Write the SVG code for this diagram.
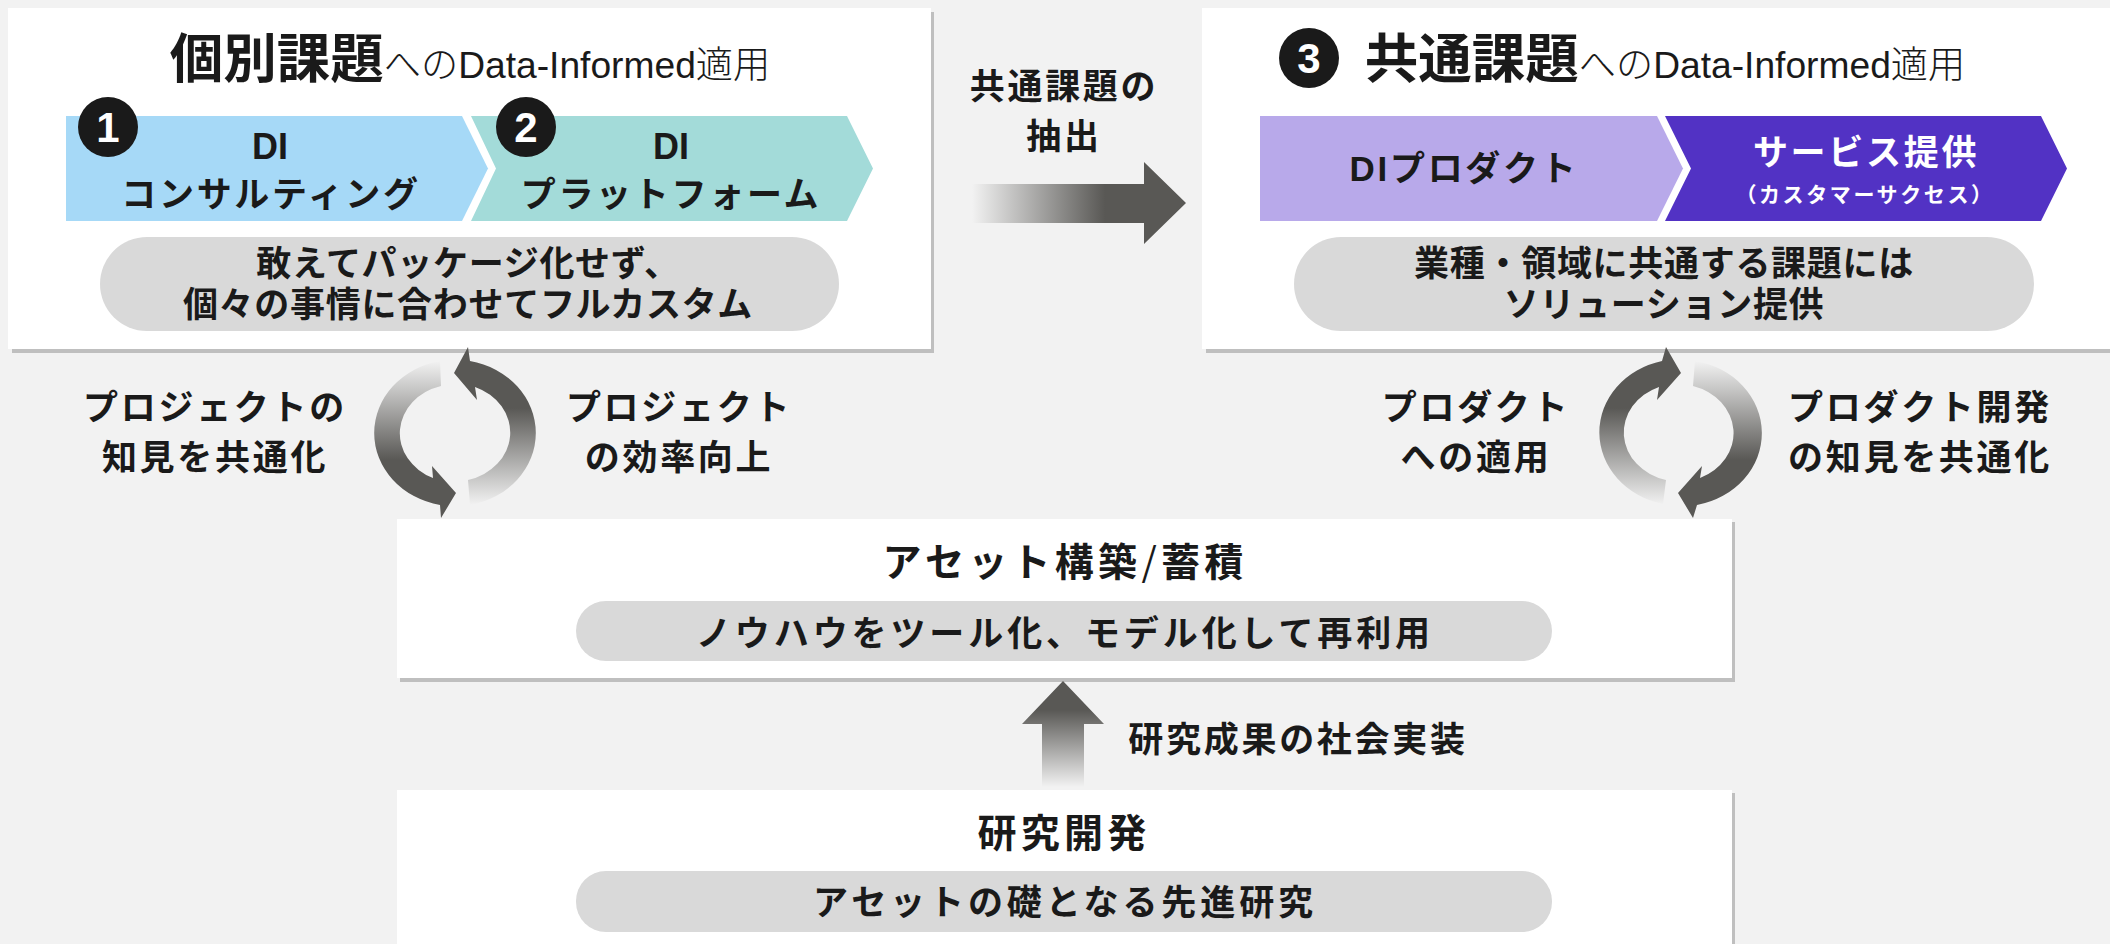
<svg xmlns="http://www.w3.org/2000/svg" width="2110" height="944" viewBox="0 0 2110 944">
<style>
text{font-family:"Liberation Sans","Noto Sans CJK JP",sans-serif;fill:#1a1a1a;text-anchor:middle}
.b{font-weight:700;font-size:35px;letter-spacing:2.700px}
.m{font-weight:700;font-size:35px;letter-spacing:.7px}
.k{font-weight:700;font-size:35px;letter-spacing:3.900px}
.d{font-weight:700;font-size:36px}
.h{font-weight:700;font-size:39px;letter-spacing:4.300px}
.t{font-weight:700;font-size:53.500px}
.l{font-weight:300;font-size:37.200px}
.n{font-weight:700;font-size:42px;fill:#fff}
.w{fill:#fff}
.p{fill:#d9d9d9}
.s{fill:#bfbfbf}
.c{fill:#1a1a1a}
</style>
<defs>
<linearGradient id="gD" gradientUnits="userSpaceOnUse" x1="0" y1="361" x2="0" y2="460"><stop offset="0" stop-color="#f2f2f2"/><stop offset="1" stop-color="#595855"/></linearGradient>
<linearGradient id="gU" gradientUnits="userSpaceOnUse" x1="0" y1="505" x2="0" y2="408"><stop offset="0" stop-color="#f2f2f2"/><stop offset="1" stop-color="#595855"/></linearGradient>
<linearGradient id="gR" gradientUnits="userSpaceOnUse" x1="972" y1="0" x2="1105" y2="0"><stop offset="0" stop-color="#f2f2f2"/><stop offset="1" stop-color="#595855"/></linearGradient>
<linearGradient id="gV" gradientUnits="userSpaceOnUse" x1="0" y1="787" x2="0" y2="710"><stop offset="0" stop-color="#f2f2f2"/><stop offset="1" stop-color="#595855"/></linearGradient>
</defs>
<rect width="2110" height="944" fill="#f2f2f2"/>
<g id="node-individual">
<rect class="s" x="12" y="12" width="922" height="341"/>
<rect class="w" x="8" y="8" width="923" height="341"/>
<text x="470" y="78"><tspan class="t">個別課題</tspan><tspan class="l">へのData-Informed適用</tspan></text>
<path d="M66 116H462L488 168.500L462 221H66Z" fill="#a6d9f7"/>
<path d="M471 116H847L873 168.500L847 221H471L496 168.500Z" fill="#a3dbd9"/>
<circle class="c" cx="108" cy="127" r="30"/><text class="n" x="108" y="142">1</text>
<circle class="c" cx="526" cy="127" r="30"/><text class="n" x="526" y="142">2</text>
<text class="d" x="270" y="159">DI</text>
<text class="b" x="271" y="207">コンサルティング</text>
<text class="d" x="671" y="159">DI</text>
<text class="b" x="671" y="207">プラットフォーム</text>
<rect class="p" x="100" y="237" width="739" height="94" rx="47"/>
<text class="m" x="468" y="276">敢えてパッケージ化せず、</text>
<text class="m" x="468" y="317">個々の事情に合わせてフルカスタム</text>
</g>
<g id="node-common">
<rect class="s" x="1206" y="12" width="904" height="341"/>
<rect class="w" x="1202" y="8" width="908" height="341"/>
<circle class="c" cx="1309" cy="58" r="30"/><text class="n" x="1309" y="73">3</text>
<text x="1665" y="78"><tspan class="t">共通課題</tspan><tspan class="l">へのData-Informed適用</tspan></text>
<path d="M1260 116H1657L1683 168.500L1657 221H1260Z" fill="#b8a9ea"/>
<path d="M1665 116H2041L2067 168.500L2041 221H1665L1691 168.500Z" fill="#5232c4"/>
<text class="b" x="1464" y="181">DIプロダクト</text>
<text class="b" x="1866" y="165" style="fill:#fff">サービス提供</text>
<text x="1865" y="202" style="fill:#fff;font-weight:700;font-size:21px;letter-spacing:2.600px">（カスタマーサクセス）</text>
<rect class="p" x="1294" y="237" width="740" height="94" rx="47"/>
<text class="m" x="1664" y="276">業種・領域に共通する課題には</text>
<text class="m" x="1664" y="317">ソリューション提供</text>
</g>
<g id="node-asset">
<rect class="s" x="400" y="522" width="1335" height="160"/>
<rect class="w" x="397" y="519" width="1335" height="159"/>
<text class="h" x="1065" y="576">アセット構築<tspan font-weight="400" font-family="Noto Sans CJK JP">/</tspan>蓄積</text>
<rect class="p" x="576" y="601" width="976" height="60" rx="30"/>
<text class="k" x="1065" y="646">ノウハウをツール化、モデル化して再利用</text>
</g>
<g id="node-research">
<rect class="s" x="400" y="793" width="1335" height="151"/>
<rect class="w" x="397" y="790" width="1335" height="154"/>
<text class="h" x="1064" y="847">研究開発</text>
<rect class="p" x="576" y="871" width="976" height="61" rx="30"/>
<text class="k" x="1065" y="915">アセットの礎となる先進研究</text>
</g>
<g id="connectors">
<path d="M972 184H1144V162L1186 203L1144 244V223H972Z" fill="url(#gR)"/>
<path d="M1042 787V724H1022L1063 681L1104 724H1084V787Z" fill="url(#gV)"/>
<path d="M440 361A81 73.300 0 0 0 440 505L441 518L456 493L432 466L433 478A56 49 0 0 1 441 386Z" fill="url(#gD)"/>
<path d="M470 505A81 73.300 0 0 0 470 361L468 347L454 373L477 400L475 387A56 49 0 0 1 468 480Z" fill="url(#gU)"/>
<path d="M1663 504A81 73.300 0 0 1 1662 361L1666 347L1681 373L1657 400L1659 387A56 49 0 0 0 1666 480Z" fill="url(#gU)"/>
<path d="M1695 361A81 73.300 0 0 1 1697 505L1693 518L1678 493L1702 466L1700 478A56 49 0 0 0 1693 386Z" fill="url(#gD)"/>
</g>
<g id="labels">
<text class="b" x="215" y="420">プロジェクトの</text>
<text class="b" x="215" y="470">知見を共通化</text>
<text class="b" x="679" y="420">プロジェクト</text>
<text class="b" x="679" y="470">の効率向上</text>
<text class="b" x="1476" y="420">プロダクト</text>
<text class="b" x="1476" y="470">への適用</text>
<text class="b" x="1920" y="420">プロダクト開発</text>
<text class="b" x="1920" y="470">の知見を共通化</text>
<text class="b" x="1064" y="99">共通課題の</text>
<text class="b" x="1064" y="149">抽出</text>
<text class="b" x="1298" y="752">研究成果の社会実装</text>
</g>
</svg>
